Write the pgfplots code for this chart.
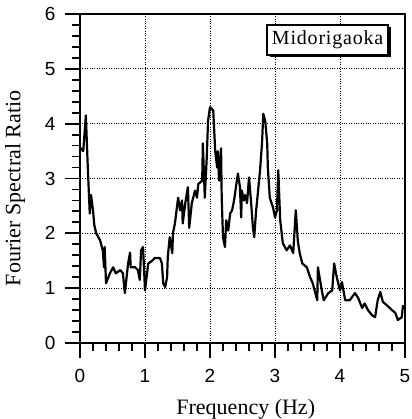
\documentclass[border=0pt]{standalone}
\usepackage{fontspec}
\setmainfont{Liberation Serif}
\setsansfont{Liberation Sans}
\usepackage{pgfplots}
\pgfplotsset{compat=1.18}
\usetikzlibrary{shadows}

\begin{document}
\begin{tikzpicture}
\useasboundingbox (-80pt,-76pt) rectangle (331pt,343pt);
\begin{axis}[
    scale only axis,
    width=325pt,
    height=329pt,
    xmin=0, xmax=5,
    ymin=0, ymax=6,
    xtick={0,1,2,3,4,5},
    ytick={0,1,2,3,4,5,6},
    minor x tick num=4,
    minor y tick num=4,
    tick pos=left,
    tick align=outside,
    major tick length=15pt,
    minor tick length=8pt,
    every tick/.style={black, line width=1.8pt},
    axis line style={line width=2pt},
    grid=major,
    grid style={black, dotted, line width=1pt},
    ticklabel style={font=\sffamily\fontsize{19}{19}\selectfont},
    /pgf/number format/assume math mode=true,
    xticklabel style={yshift=-8pt},
    yticklabel style={xshift=-6pt},
    xlabel={Frequency (Hz)},
    ylabel={Fourier Spectral Ratio},
    label style={font=\fontsize{22}{22}\selectfont},
    xlabel style={at={(axis description cs:0.51,-0.2006)}, anchor=center},
    ylabel style={at={(axis description cs:-0.2,0.47)}, anchor=center},
]
\addplot[black, line width=2.2pt, line join=round] coordinates {
(0.00,3.56) (0.05,3.50) (0.09,4.15) (0.12,3.20) (0.15,2.36) (0.17,2.70)
(0.20,2.42) (0.22,2.15) (0.25,2.00) (0.31,1.87) (0.35,1.69) (0.37,1.38)
(0.38,1.75) (0.40,1.09) (0.46,1.27) (0.51,1.38) (0.55,1.27) (0.62,1.33)
(0.66,1.27) (0.69,0.91) (0.74,1.45) (0.77,1.65) (0.78,1.38) (0.85,1.38)
(0.89,1.33) (0.92,1.15) (0.94,1.69) (0.97,1.75) (1.00,0.96) (1.05,1.45)
(1.11,1.50) (1.15,1.55) (1.23,1.55) (1.26,1.45) (1.28,1.09) (1.31,1.02)
(1.34,1.20) (1.35,1.56) (1.38,1.93) (1.42,1.64) (1.43,2.00) (1.46,2.18)
(1.51,2.65) (1.54,2.42) (1.57,2.60) (1.58,2.18) (1.62,2.55) (1.65,2.78)
(1.66,2.84) (1.68,2.10) (1.72,2.55) (1.77,2.78) (1.80,2.65) (1.82,2.90)
(1.88,2.96) (1.89,3.64) (1.92,2.65) (1.95,3.38) (1.97,4.05) (2.00,4.30)
(2.05,4.24) (2.08,3.50) (2.11,3.20) (2.12,3.50) (2.14,2.96) (2.17,3.55)
(2.18,2.65) (2.20,1.93) (2.23,1.75) (2.25,2.24) (2.28,2.05) (2.31,2.36)
(2.34,2.42) (2.37,2.60) (2.42,3.02) (2.43,3.09) (2.46,2.85) (2.48,2.29)
(2.49,2.78) (2.52,2.60) (2.54,2.70) (2.57,2.55) (2.60,3.02) (2.63,2.60)
(2.66,2.11) (2.68,1.93) (2.71,2.42) (2.74,2.78) (2.77,3.15) (2.80,3.64)
(2.82,4.18) (2.85,4.05) (2.88,3.64) (2.89,3.20) (2.92,2.65) (2.97,2.47)
(3.00,2.29) (3.03,2.42) (3.05,3.15) (3.08,2.24) (3.11,1.93) (3.12,1.82)
(3.18,1.69) (3.23,1.78) (3.28,1.64) (3.32,2.42) (3.35,1.87) (3.38,1.64)
(3.42,1.45) (3.49,1.38) (3.54,1.20) (3.58,1.09) (3.65,0.78) (3.66,1.38)
(3.72,0.96) (3.75,0.78) (3.82,0.91) (3.88,0.96) (3.91,1.45) (3.95,1.20)
(4.00,0.96) (4.03,1.11) (4.08,0.78) (4.15,0.78) (4.23,0.91) (4.28,0.82)
(4.34,0.64) (4.38,0.72) (4.43,0.60) (4.49,0.51) (4.54,0.47) (4.58,0.78)
(4.62,0.93) (4.66,0.75) (4.72,0.69) (4.80,0.60) (4.85,0.55) (4.89,0.42)
(4.95,0.47) (4.97,0.69)
};
\node[draw=black, fill=white, line width=1.4pt, inner sep=0pt,
      minimum width=121pt, minimum height=30pt,
      drop shadow={fill=black, opacity=1, shadow xshift=2.5pt, shadow yshift=-2.5pt},
      font=\fontsize{20}{20}\selectfont\addfontfeatures{LetterSpace=4}]
  at (rel axis cs:0.762,0.921) {Midorigaoka};
\end{axis}
\end{tikzpicture}
\end{document}
